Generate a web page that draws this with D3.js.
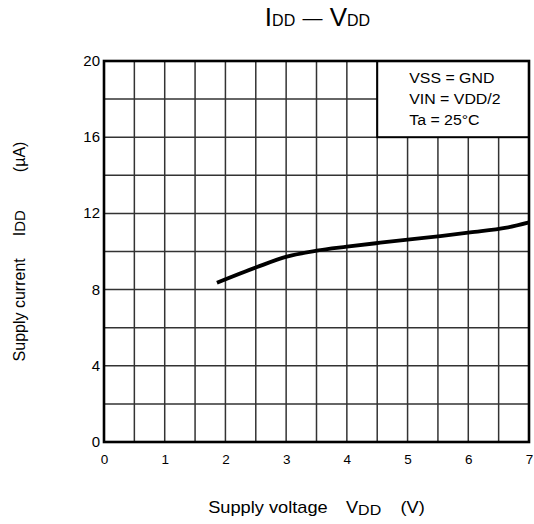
<!DOCTYPE html>
<html><head><meta charset="utf-8">
<script src="https://cdn.jsdelivr.net/npm/d3@7"></script>
<style>body{margin:0;background:#fff}svg{display:block;font-family:"Liberation Sans",Arial,sans-serif}</style>
</head><body>
<svg id="c" width="534" height="524"></svg>
<script>
const vdd = [1.86, 2.51, 3.01, 3.5, 4.0, 4.55, 5.04, 5.54, 6.03, 6.63, 7.0];
const idd = [8.36, 9.17, 9.73, 10.04, 10.25, 10.46, 10.64, 10.81, 11.0, 11.25, 11.53];
const xTicks = [0,1,2,3,4,5,6,7];
const yTicks = [0,4,8,12,16,20];
const xGrid = d3.range(0.5, 7, 0.5);
const yGrid = d3.range(2, 20, 2);
const legendLines = ["VSS = GND","VIN = VDD/2","Ta = 25°C"];

const svg = d3.select("#c");
const L=104, R=529, T=61, B=442;
const x = d3.scaleLinear().domain([0,7]).range([L,R]);
const y = d3.scaleLinear().domain([0,20]).range([B,T]);

// grid
const g = svg.append("g").attr("stroke","#333").attr("stroke-width",1.5);
g.selectAll("line.v").data(xGrid).join("line").attr("x1",d=>x(d)).attr("x2",d=>x(d)).attr("y1",T).attr("y2",B);
g.selectAll("line.h").data(yGrid).join("line").attr("y1",d=>y(d)).attr("y2",d=>y(d)).attr("x1",L).attr("x2",R);

// legend box
svg.append("rect").attr("x",x(4.5)).attr("y",y(20)).attr("width",x(7)-x(4.5)).attr("height",y(16)-y(20))
  .attr("fill","#fff").attr("stroke","#000").attr("stroke-width",2);
svg.append("g").selectAll("text").data(legendLines).join("text")
  .attr("transform",(d,i)=>`translate(${x(4.5)+32},${83+i*21}) scale(1.06,1)`)
  .attr("font-size",15).attr("fill","#000").text(d=>d);

// curve
const pts = vdd.map((v,i)=>[v,idd[i]]);
svg.append("path").datum(pts).attr("fill","none").attr("stroke","#000").attr("stroke-width",3.8)
  .attr("d",d3.line().x(d=>x(d[0])).y(d=>y(d[1])).curve(d3.curveMonotoneX));

// frame
svg.append("rect").attr("x",L).attr("y",T).attr("width",R-L).attr("height",B-T)
  .attr("fill","none").attr("stroke","#000").attr("stroke-width",2.6);

// axes
const xa = svg.append("g").attr("transform",`translate(0,${B})`)
  .call(d3.axisBottom(x).tickValues(xTicks).tickSize(0).tickPadding(12).tickFormat(d3.format("d")));
xa.select(".domain").remove();
xa.selectAll("text").attr("font-size",13.5).attr("fill","#000").attr("font-family",null);
const ya = svg.append("g").attr("transform",`translate(${L},0)`)
  .call(d3.axisLeft(y).tickValues(yTicks).tickSize(0).tickPadding(4).tickFormat(d3.format("d")));
ya.select(".domain").remove();
ya.selectAll("text").attr("font-size",15).attr("fill","#000").attr("font-family",null).attr("dy","0.3em");

// title
const t = svg.append("text").attr("x",(L+R)/2+1).attr("y",26).attr("text-anchor","middle").attr("fill","#000").attr("font-size",26);
t.append("tspan").text("I");
t.append("tspan").attr("font-size",16).text("DD");
t.append("tspan").text(" ");
t.append("tspan").attr("font-size",20).attr("dy",-1.5).text("—");
t.append("tspan").attr("dy",1.5).text(" V");
t.append("tspan").attr("font-size",16).text("DD");

// x title
const xt = svg.append("text").attr("transform",`translate(${(L+R)/2},513) scale(1.14,1)`)
  .attr("text-anchor","middle").attr("fill","#000").attr("font-size",16);
xt.append("tspan").text("Supply voltage");
xt.append("tspan").attr("dx",16).text("V");
xt.append("tspan").attr("font-size",14).attr("dy",2).text("DD");
xt.append("tspan").attr("dx",17).attr("dy",-2).text("(V)");

// y title
const yt = svg.append("text").attr("transform",`translate(25,${(T+B)/2}) rotate(-90)`)
  .attr("text-anchor","middle").attr("fill","#000").attr("font-size",16);
yt.append("tspan").text("Supply current");
yt.append("tspan").attr("dx",22).text("I");
yt.append("tspan").attr("font-size",15).text("DD");
yt.append("tspan").attr("dx",38).text("(µA)");
</script>
</body></html>
